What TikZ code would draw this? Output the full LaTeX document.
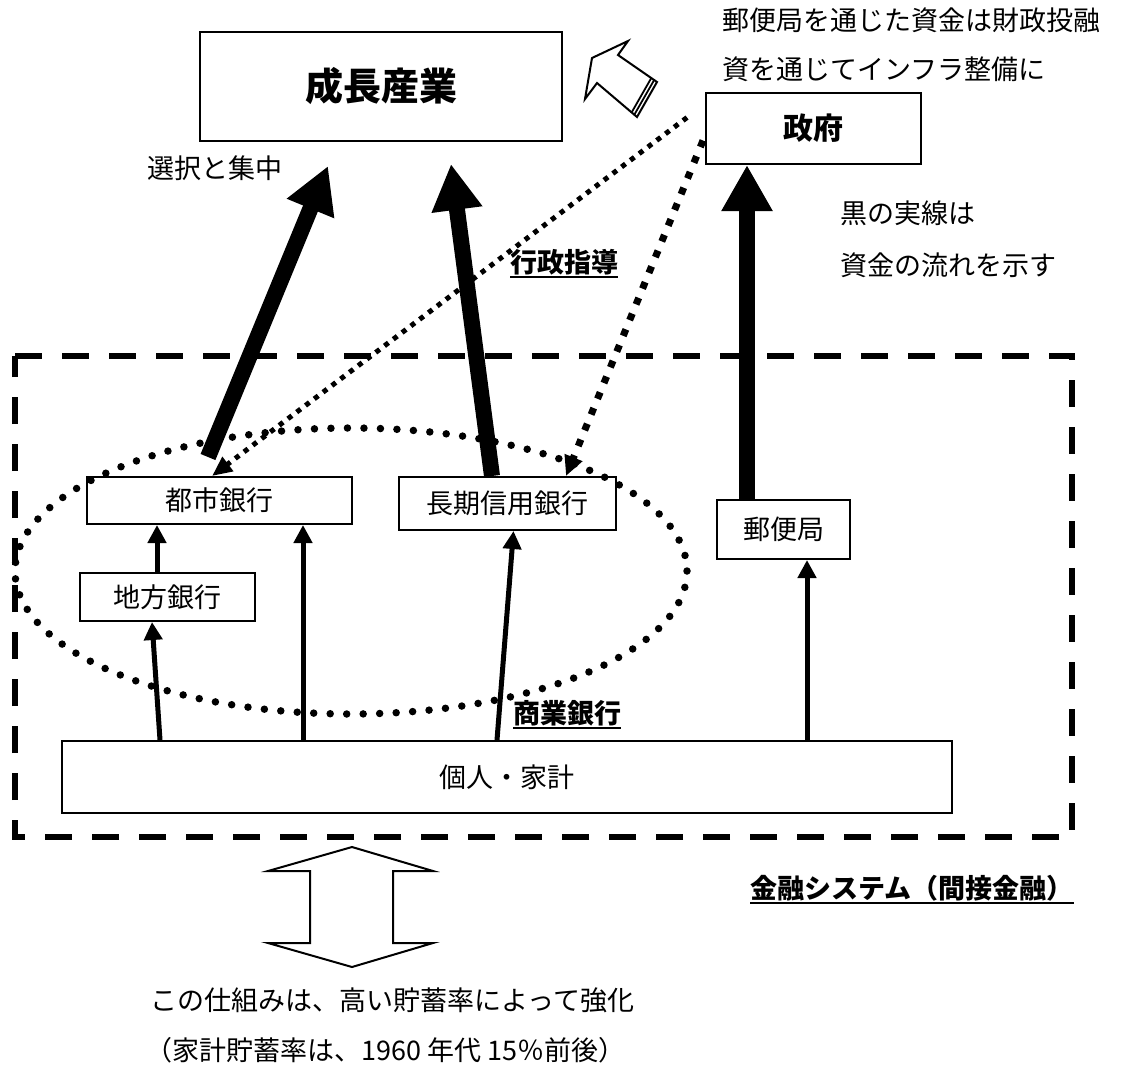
\documentclass[tikz,border=0pt]{standalone}
\usepackage{fontspec}
\setmainfont{Noto Sans CJK JP}
\usetikzlibrary{arrows.meta}
\begin{document}
\begin{tikzpicture}[x=1pt,y=-1pt,
  box/.style={draw, line width=2pt, inner sep=0pt},
  txt/.style={inner sep=0pt, font=\fontsize{27}{32}\selectfont},
  txtb/.style={inner sep=0pt, font=\fontsize{27}{32}\selectfont\bfseries},
  bigarrow/.style={line width=16pt, -{Triangle[length=46pt,width=48pt]}},
  smallarrow/.style={line width=5pt, -{Triangle[length=18pt,width=18pt]}},
  dotfine/.style={line width=5pt, dash pattern=on 5pt off 6pt, -{Triangle[length=20pt,width=17pt]}},
  dotcoarse/.style={line width=7pt, dash pattern=on 7pt off 10pt, -{Triangle[length=20pt,width=18pt]}},
  uline/.style={line width=2pt}
]
\useasboundingbox (0,0) rectangle (1127,1077);
\fill[white] (0,0) rectangle (1127,1077);

% financial system frame
\draw[line width=6pt, dash pattern=on 27pt off 20pt] (15,356) -- (1072,356) -- (1072,837) -- (15,837) -- cycle;

% commercial banks ellipse
\draw[line width=7.5pt, line cap=round, dash pattern=on 0pt off 16.5pt] (351,571) ellipse [x radius=336, y radius=143];

% boxes
\node[box, minimum width=362pt, minimum height=109pt, font=\fontsize{38}{44}\selectfont\bfseries] (seicho) at (381,86.5) {成長産業};
\node[box, minimum width=215pt, minimum height=71pt, font=\fontsize{30}{36}\selectfont\bfseries] (seifu) at (813.5,128.5) {政府};
\node[box, minimum width=265pt, minimum height=47pt, font=\fontsize{27}{32}\selectfont] (toshi) at (219.5,500.5) {都市銀行};
\node[box, minimum width=217pt, minimum height=53pt, font=\fontsize{27}{32}\selectfont] (choki) at (507.5,503.5) {長期信用銀行};
\node[box, minimum width=175pt, minimum height=48pt, font=\fontsize{27}{32}\selectfont] (chiho) at (167.5,597) {地方銀行};
\node[box, minimum width=133pt, minimum height=59pt, font=\fontsize{27}{32}\selectfont] (yubin) at (783.5,529.5) {郵便局};
\node[box, minimum width=890pt, minimum height=72pt, font=\fontsize{27}{32}\selectfont] (kojin) at (507,777) {個人・家計};

% hollow arrow toward growth industries
\draw[line width=2pt, fill=white, line join=miter] (592,58) -- (628,41) -- (618,55) -- (657,82) -- (637,117) -- (597,83) -- (585,99) -- cycle;
\draw[line width=1.8pt] (654.2,79.9) -- (634.2,114.9);
\draw[line width=1.8pt] (651.4,77.8) -- (631.4,112.8);

% administrative guidance (dotted)
\draw[dotfine] ([xshift=-18pt,yshift=11pt]seifu.west) -- ([xshift=-7.5pt]toshi.north);
\draw[dotcoarse] ([xshift=-2pt,yshift=-12pt]seifu.west) -- ([xshift=58.5pt]choki.north);

% main money flows (thick)
\draw[bigarrow] ([xshift=-11.5pt,yshift=19pt]toshi.north) -- ([xshift=-53pt,yshift=-24pt]seicho.south);
\draw[bigarrow] ([xshift=-15.5pt]choki.north) -- ([xshift=70pt,yshift=-22pt]seicho.south);
\draw[bigarrow] ([xshift=-36.5pt]yubin.north) -- ([xshift=-66.5pt]seifu.south);

% deposits (thin)
\draw[smallarrow] ([xshift=-10.5pt]chiho.north) -- ([xshift=-62.5pt]toshi.south);
\draw[smallarrow] ([xshift=-347pt]kojin.north) -- ([xshift=-15.5pt]chiho.south);
\draw[smallarrow] ([xshift=-204pt]kojin.north) -- ([xshift=83.5pt]toshi.south);
\draw[smallarrow] ([xshift=-10pt]kojin.north) -- ([xshift=6pt]choki.south);
\draw[smallarrow] ([xshift=300pt]kojin.north) -- ([xshift=23.5pt]yubin.south);

% double hollow arrow
\draw[line width=2pt, fill=white] (352,847) -- (433,871) -- (393,871) -- (393,943) -- (433,943) -- (352,967) -- (268,943) -- (310,943) -- (310,871) -- (268,871) -- cycle;

% texts
\node[txt, anchor=west] (note1) at (722,20) {郵便局を通じた資金は財政投融};
\node[txt, anchor=west] (note2) at (722,69) {資を通じてインフラ整備に};
\node[txt, anchor=west] (sentaku) at (147,168) {選択と集中};
\node[txt, anchor=west] (kuro1) at (840,213) {黒の実線は};
\node[txt, anchor=west] (kuro2) at (840,265) {資金の流れを示す};
\node[txtb, anchor=west] (gyosei) at (510,262) {行政指導};
\node[txtb, anchor=west] (shogyo) at (513,713) {商業銀行};
\node[txtb, anchor=west] (kinyu) at (750,888) {金融システム（間接金融）};
\node[txt, anchor=west] (bottom1) at (150,1000) {この仕組みは、高い貯蓄率によって強化};
\node[txt, anchor=west] (bottom2) at (145,1050) {（家計貯蓄率は、1960 年代 15％前後）};

\draw[uline] ([yshift=-2pt]gyosei.south west) -- ([yshift=-2pt]gyosei.south east);
\draw[uline] ([yshift=-2pt]shogyo.south west) -- ([yshift=-2pt]shogyo.south east);
\draw[uline] ([yshift=-2pt]kinyu.south west) -- ([yshift=-2pt]kinyu.south east);
\end{tikzpicture}
\end{document}
